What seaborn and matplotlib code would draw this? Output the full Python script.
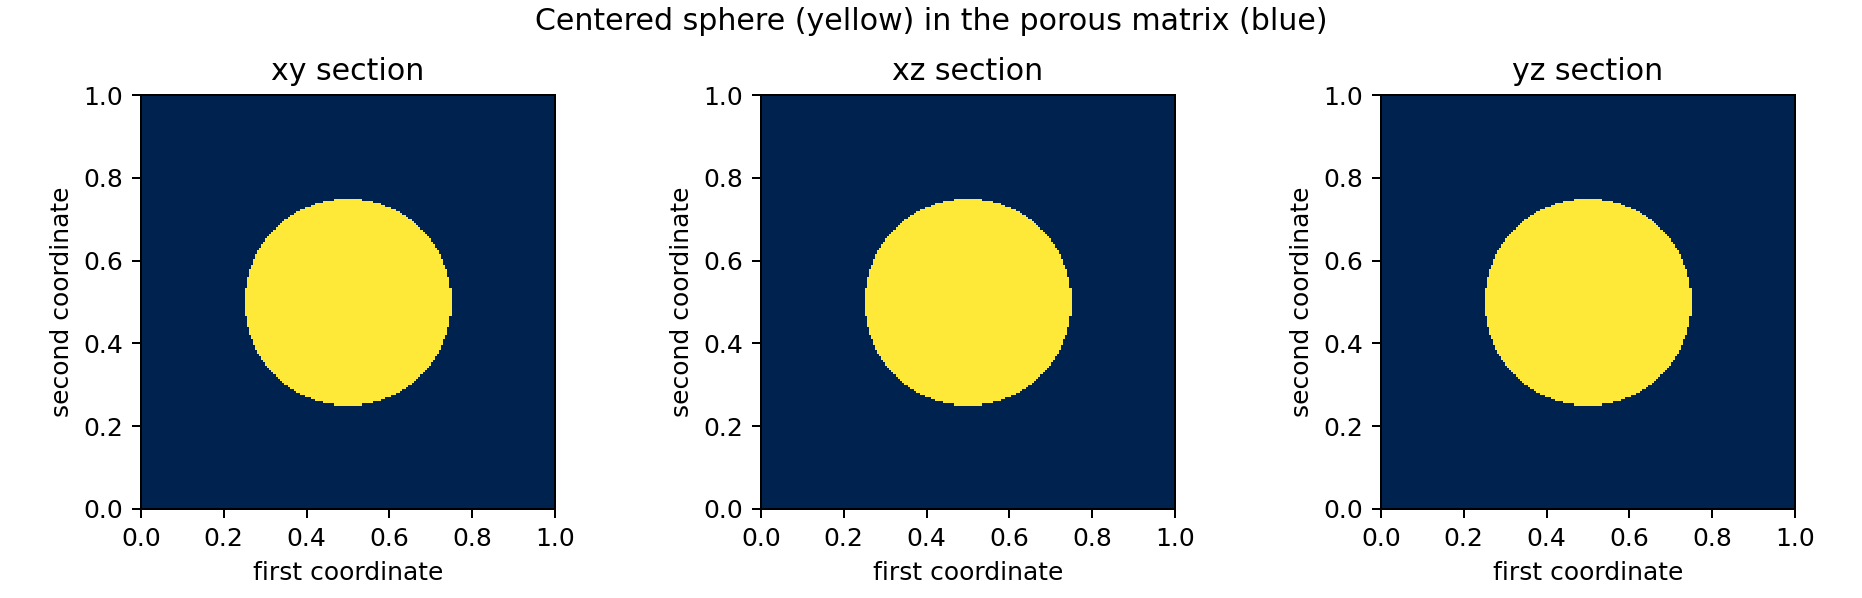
import matplotlib
matplotlib.use("Agg")
import matplotlib.pyplot as plt
import seaborn as sns
import numpy as np

# sphere in unit cube, sampled on a regular grid
n_cells = 200
center = (0.5, 0.5, 0.5)
radius = 0.25
sections = ['xy section', 'xz section', 'yz section']
ticks = [0.0, 0.2, 0.4, 0.6, 0.8, 1.0]
tick_labels = ['0.0', '0.2', '0.4', '0.6', '0.8', '1.0']

sns.set_style('white')
plt.rcParams['font.family'] = ['DejaVu Sans']
plt.rcParams['font.size'] = 10
for key in ['text.color', 'axes.labelcolor', 'xtick.color', 'ytick.color']:
    plt.rcParams[key] = 'black'

coords = (np.arange(n_cells) + 0.5) / n_cells
a, b = np.meshgrid(coords, coords)

W, H, dpi = 1862, 598, 180
fig = plt.figure(figsize=(W / dpi, H / dpi), dpi=dpi)
fig.suptitle('Centered sphere (yellow) in the porous matrix (blue)',
             fontsize=12, y=1 - 21 / H, va='center')

lefts = [141, 761, 1381]
size = 414
for left, name in zip(lefts, sections):
    ax = fig.add_axes([left / W, 1 - 509 / H, size / W, size / H])
    # section through the sphere centre
    field = ((a - center[0]) ** 2 + (b - center[1]) ** 2 <= radius ** 2).astype(float)
    sns.heatmap(field, ax=ax, cmap='cividis', cbar=False, vmin=0, vmax=1,
                xticklabels=False, yticklabels=False)
    ax.invert_yaxis()
    ax.set_xticks([t * n_cells for t in ticks])
    ax.set_xticklabels(tick_labels, rotation=0)
    ax.set_yticks([t * n_cells for t in ticks])
    ax.set_yticklabels(tick_labels, rotation=0)
    ax.tick_params(length=3.5, width=0.8, left=True, bottom=True, color='black')
    for s in ax.spines.values():
        s.set_visible(True)
        s.set_color('black')
        s.set_linewidth(0.8)
    ax.set_title(name, fontsize=12)
    ax.set_xlabel('first coordinate')
    ax.set_ylabel('second coordinate')

fig.savefig('out.png', dpi=dpi)
